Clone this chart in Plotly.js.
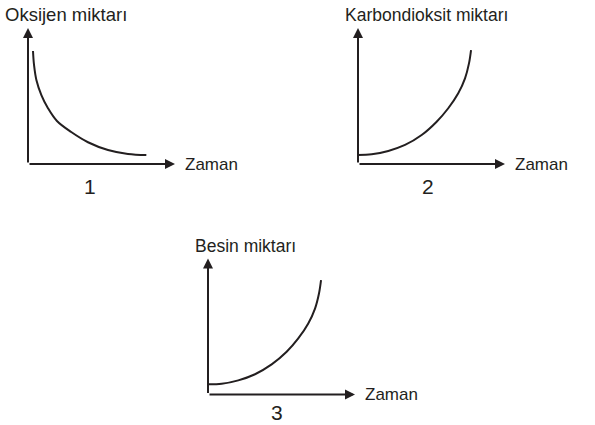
<!DOCTYPE html>
<html>
<head>
<meta charset="utf-8">
<script src="https://cdn.plot.ly/plotly-3.0.1.min.js"></script>
<style>
html,body{margin:0;padding:0;background:#fff;}
#chart{width:595px;height:425px;}
</style>
</head>
<body>
<div id="chart"></div>
<script>
// ---- data (time in arbitrary units 0-10) ----
const time1 = [0.34, 0.41, 0.57, 0.91, 1.36, 1.97, 2.94, 4.08, 5.44, 6.80, 8.05];
const oksijen = [8.31, 7.28, 6.18, 5.07, 4.10, 3.16, 2.35, 1.60, 1.03, 0.74, 0.66];

const time2 = [0, 0.93, 2.06, 3.20, 4.33, 5.35, 6.14, 6.82, 7.28, 7.55, 7.69];
const karbondioksit = [0.66, 0.71, 0.96, 1.40, 2.13, 3.11, 4.10, 5.20, 6.30, 7.40, 8.38];

const time3 = [0, 0.93, 2.06, 3.20, 4.33, 5.35, 6.14, 6.82, 7.28, 7.55, 7.69];
const besin = [0.75, 0.79, 1.04, 1.49, 2.21, 3.14, 4.12, 5.22, 6.32, 7.43, 8.41];

const yTitles = ["Oksijen miktarı", "Karbondioksit miktarı", "Besin miktarı"];
const xTitle = "Zaman";
const panelLabels = ["1", "2", "3"];

const INK = "#231f20";
const FONT = "Liberation Sans, Arial, Helvetica, sans-serif";

function curve(x, y, xa, ya) {
  return {
    x: x, y: y, xaxis: xa, yaxis: ya, type: "scatter", mode: "lines",
    line: {color: INK, width: 2, shape: "spline", smoothing: 1},
    hoverinfo: "skip", showlegend: false
  };
}

const data = [
  curve(time1, oksijen, "x", "y"),
  curve(time2, karbondioksit, "x2", "y2"),
  curve(time3, besin, "x3", "y3")
];

function ax(domain) {
  return {domain: domain, range: [0, 10], visible: false, fixedrange: true};
}

// panel frames (paper fractions)
const W = 595, H = 425;
const panels = [
  {x0: 28, x1: 175, yb: 164, yt: 28},
  {x0: 358, x1: 505, yb: 164, yt: 28},
  {x0: 208, x1: 355, yb: 394.5, yt: 258.5}
];
function xd(p) { return [p.x0 / W, p.x1 / W]; }
function yd(p) { return [1 - p.yb / H, 1 - p.yt / H]; }

const layout = {
  width: W, height: H,
  margin: {l: 0, r: 0, t: 0, b: 0},
  paper_bgcolor: "#ffffff", plot_bgcolor: "rgba(0,0,0,0)",
  showlegend: false,
  xaxis: ax(xd(panels[0])), yaxis: ax(yd(panels[0])),
  xaxis2: ax(xd(panels[1])), yaxis2: ax(yd(panels[1])),
  xaxis3: ax(xd(panels[2])), yaxis3: ax(yd(panels[2])),
  annotations: []
};

const axisIds = [["x", "y"], ["x2", "y2"], ["x3", "y3"]];
axisIds.forEach(function (ids) {
  const xr = ids[0], yr = ids[1];
  // x-axis arrow
  layout.annotations.push({
    xref: xr, yref: yr, axref: xr, ayref: yr,
    x: 10, y: 0, ax: 0, ay: 0, text: "",
    showarrow: true, arrowhead: 2, arrowsize: 1, arrowwidth: 2, arrowcolor: INK
  });
  // y-axis arrow
  layout.annotations.push({
    xref: xr, yref: yr, axref: xr, ayref: yr,
    x: 0, y: 10, ax: 0, ay: 0, text: "",
    showarrow: true, arrowhead: 2, arrowsize: 1, arrowwidth: 2, arrowcolor: INK
  });
});

// text labels
const titlePos = [[3, 15], [343, 15], [193, 246]];
const zamanPos = [[183, 164], [513, 164], [363, 394]];
const digitPos = [[90, 186], [428, 186], [277, 412]];
const titleSize = [18.5, 17.5, 17.5];
for (let i = 0; i < 3; i++) {
  layout.annotations.push({
    xref: "paper", yref: "paper", x: titlePos[i][0] / W, y: 1 - titlePos[i][1] / H,
    xanchor: "left", yanchor: "middle", showarrow: false, text: yTitles[i],
    font: {family: FONT, size: titleSize[i], color: INK}
  });
  layout.annotations.push({
    xref: "paper", yref: "paper", x: zamanPos[i][0] / W, y: 1 - zamanPos[i][1] / H,
    xanchor: "left", yanchor: "middle", showarrow: false, text: xTitle,
    font: {family: FONT, size: 17, color: INK}
  });
  layout.annotations.push({
    xref: "paper", yref: "paper", x: digitPos[i][0] / W, y: 1 - digitPos[i][1] / H,
    xanchor: "center", yanchor: "middle", showarrow: false, text: panelLabels[i],
    font: {family: FONT, size: 21, color: INK}
  });
}

Plotly.newPlot("chart", data, layout, {displayModeBar: false, staticPlot: true});
</script>
</body>
</html>
